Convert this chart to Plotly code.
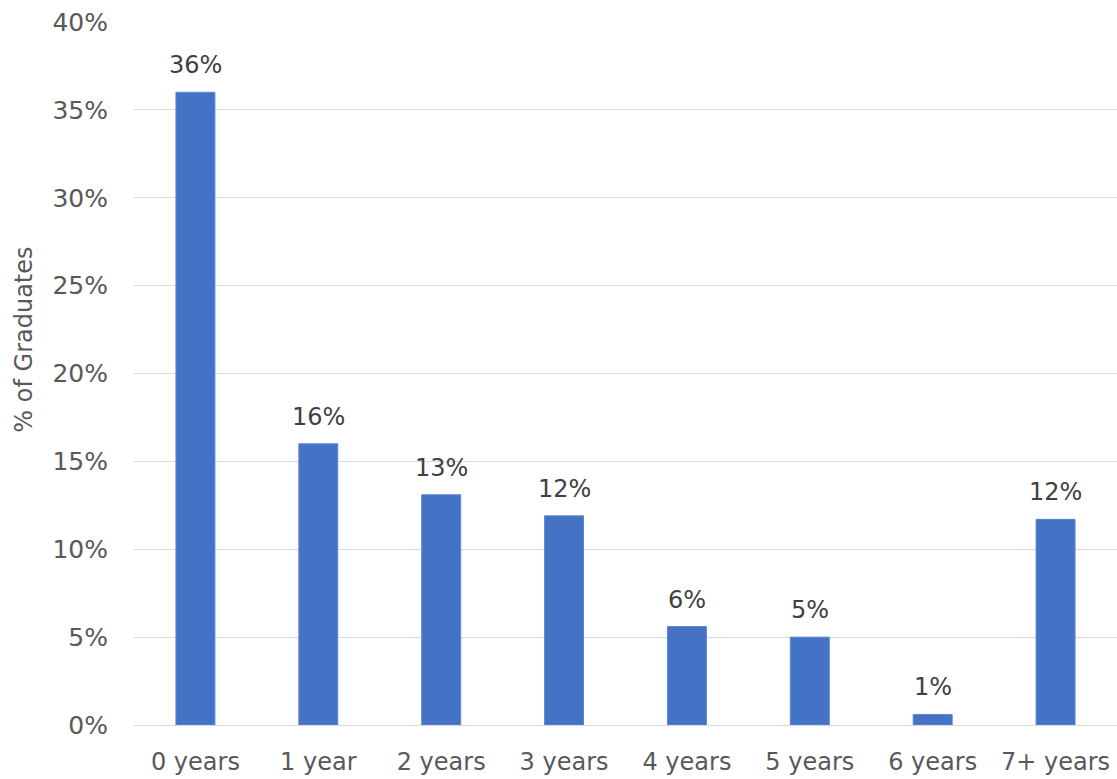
import plotly.graph_objects as go

categories = ["0 years", "1 year", "2 years", "3 years", "4 years", "5 years", "6 years", "7+ years"]
values = [36.0, 16.0, 13.1, 11.9, 5.6, 5.0, 0.6, 11.7]
y_ticks = [0, 5, 10, 15, 20, 25, 30, 35, 40]
y_tick_labels = [f"{v}%" for v in y_ticks]

FONT = "DejaVu Sans"
TICK_COLOR = "#595959"
LABEL_COLOR = "#404040"

fig = go.Figure(
    go.Bar(
        x=categories,
        y=values,
        marker=dict(color="#4472C4", line=dict(color="#5B86D2", width=1)),
        hoverinfo="x+y",
    )
)

label_annotations = [
    dict(
        x=c,
        y=v,
        xref="x",
        yref="y",
        text=f"{v:.0f}%",
        showarrow=False,
        xanchor="center",
        yanchor="bottom",
        yshift=11,
        font=dict(family=FONT, size=24, color=LABEL_COLOR),
    )
    for c, v in zip(categories, values)
]

fig.update_layout(
    width=1117,
    height=779,
    margin=dict(l=134, r=0, t=22, b=54),
    paper_bgcolor="white",
    plot_bgcolor="white",
    bargap=0.683,
    showlegend=False,
    font=dict(family=FONT, size=24, color=TICK_COLOR),
    xaxis=dict(
        showgrid=False,
        showline=False,
        ticks="",
        tickfont=dict(family=FONT, size=24, color=TICK_COLOR),
        ticklabelstandoff=20,
    ),
    yaxis=dict(
        range=[0, 40],
        tickvals=y_ticks,
        ticktext=y_tick_labels,
        showgrid=True,
        gridcolor="#D9D9D9",
        gridwidth=1,
        zeroline=True,
        zerolinecolor="#D9D9D9",
        zerolinewidth=1,
        showline=False,
        ticks="",
        tickfont=dict(family=FONT, size=25, color=TICK_COLOR),
        ticklabelstandoff=25,
    ),
    annotations=label_annotations + [
        dict(
            text="% of Graduates",
            textangle=-90,
            xref="paper",
            yref="paper",
            x=-0.112,
            y=0.548,
            xanchor="center",
            yanchor="middle",
            showarrow=False,
            font=dict(family=FONT, size=24, color=TICK_COLOR),
        )
    ],
)

fig.write_html(
    "out.html",
    config={"displayModeBar": False},
    post_script="document.body.style.margin='0px';document.body.style.overflow='hidden';",
)
